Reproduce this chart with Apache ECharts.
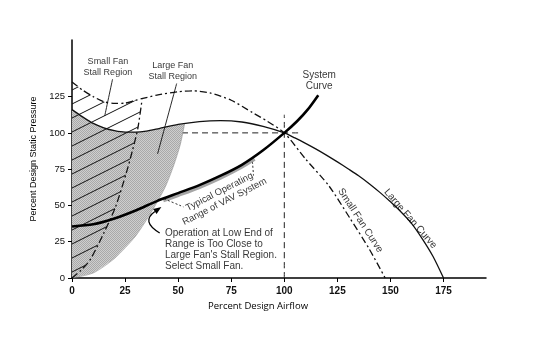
<!DOCTYPE html>
<html>
<head>
<meta charset="utf-8">
<script src="https://cdn.jsdelivr.net/npm/echarts@6/dist/echarts.min.js"></script>
<style>
  html, body { margin: 0; padding: 0; background: #fff; }
  #chart { width: 534px; height: 340px; }
</style>
</head>
<body>
<div id="chart"></div>
<script>
// Axis tick values
const xTicks = [0, 25, 50, 75, 100, 125, 150, 175];
const yTicks = [0, 25, 50, 75, 100, 125];

// Curves: [percent airflow, percent static pressure]
const systemCurve = [[0, 35.5], [10, 37], [20, 41], [30, 46.5], [40, 53], [50, 58.5], [60, 64], [70, 70.5],
  [80, 78], [90, 88], [100, 100], [106, 108], [111, 116], [116, 126]];
const operatingRange = [[43, 53.3], [50, 57], [60, 62.5], [70, 69], [80, 76.5], [86, 82]];
const largeFanCurve = [[0, 116], [5, 111], [10, 106.5], [15, 103.5], [20, 101.5], [25, 100.5], [30, 100.5],
  [35, 101.2], [41, 103], [50, 105.8], [60, 107.8], [70, 108.5], [80, 107.5], [90, 104.5], [100, 100],
  [105, 96.5], [110, 92.8], [115, 88.8], [120, 84.5], [125, 80], [130, 75.3], [135, 70.5], [140, 65],
  [145, 59], [150, 52.5], [155, 45.5], [160, 37.5], [165, 27], [170, 15], [175, 0]];
const smallFanCurve = [[0, 135], [5, 129.5], [10, 125], [15, 121.5], [20, 120.3], [25, 120.5], [30, 122.5],
  [40, 126], [50, 128.3], [57, 129], [65, 127.5], [75, 122.5], [85, 114], [92, 108], [100, 100],
  [110, 82], [121, 63.5], [131, 41], [140, 20], [147.5, 0]];
const smallFanStall = [[0, 0], [4, 5], [8.5, 12.5], [15, 31], [20.5, 49], [25.5, 72], [28.5, 88], [31, 103], [33, 123]];
const largeFanStall = [[0, 0], [10, 3.5], [20, 13.5], [30, 29], [38, 47], [44, 63], [48, 78], [51, 92], [53, 106]];

// Design point guide lines
const designHorizontal = [[0, 100], [108, 100]];
const designVertical = [[100, 0], [100, 112.5]];

// Range brackets and leader lines
const rangeBracketLow = [[43.5, 54.5], [52.5, 49]];
const rangeBracketHigh = [[85, 80], [85.5, 70.5]];
const smallStallLeader = [[19.1, 137], [15.4, 111.6]];
const largeStallLeader = [[49.3, 134], [40.3, 85.5]];

// Curved arrow: start, control, tip
const arrowPath = [[41.3, 31], [32.3, 38.8], [42.1, 49]];

// Annotation texts and anchor points
const noteTexts = [
  'Small Fan\nStall Region',
  'Large Fan\nStall Region',
  'System\nCurve',
  'Typical Operating\nRange of VAV System',
  'Operation at Low End of\nRange is Too Close to\nLarge Fan\'s Stall Region.\nSelect Small Fan.',
  'Small Fan Curve',
  'Large Fan Curve'
];
const noteAnchors = [[16.9, 145.4], [47.5, 142.7], [116.4, 135.8], [70.7, 56], [43.8, 34.6], [135.8, 39.6], [159.4, 40.8]];
const noteStyles = [
  { fontSize: 9 }, { fontSize: 9 }, { fontSize: 10 },
  { fontSize: 9.5, rotate: 27 },
  { fontSize: 10, align: 'left', verticalAlign: 'top', lineHeight: 11 },
  { fontSize: 10, rotate: -57 }, { fontSize: 10, rotate: -49 }
];

// Region outlines built from the curves
const largeStallRegion = [[0, 0]]
  .concat(largeFanCurve.filter(p => p[0] < 53))
  .concat(largeFanStall.slice().reverse());
const smallStallRegion = [[0, 0]]
  .concat(smallFanCurve.filter(p => p[0] < 33))
  .concat(smallFanStall.slice().reverse());

// Fill textures
function makeStipple() {
  const c = document.createElement('canvas');
  c.width = 2; c.height = 2;
  const g = c.getContext('2d');
  g.fillStyle = '#cecece'; g.fillRect(0, 0, 2, 2);
  g.fillStyle = '#a9a9a9'; g.fillRect(0, 0, 1, 1); g.fillRect(1, 1, 1, 1);
  return c;
}
function makeHatch() {
  const w = 28, h = 14;
  const c = document.createElement('canvas');
  c.width = w; c.height = h;
  const g = c.getContext('2d');
  g.strokeStyle = '#111';
  g.lineWidth = 1;
  for (let k = -1; k <= 1; k++) {
    g.beginPath();
    g.moveTo(-2, h + 1 + h * k);
    g.lineTo(w + 2, -1 + h * k);
    g.stroke();
  }
  return c;
}
const stipple = makeStipple();
const hatch = makeHatch();

const FONT = '"Liberation Sans", Arial, Helvetica, sans-serif';

function regionSeries(points, fill, z) {
  return {
    type: 'custom',
    coordinateSystem: 'cartesian2d',
    data: [[0, 0]],
    silent: true,
    z: z,
    renderItem: function (params, api) {
      return {
        type: 'polygon',
        shape: { points: points.map(p => api.coord(p)) },
        style: { fill: fill, stroke: null }
      };
    }
  };
}

function lineSeries(data, style, z) {
  return {
    type: 'line',
    data: data,
    smooth: 0.25,
    showSymbol: false,
    symbol: 'none',
    silent: true,
    z: z,
    lineStyle: style
  };
}

const chart = echarts.init(document.getElementById('chart'), null, { renderer: 'canvas' });

chart.setOption({
  animation: false,
  backgroundColor: '#fff',
  grid: { left: 72, right: 48, top: 40, bottom: 62 },
  xAxis: {
    type: 'value', min: 0, max: 195,
    name: 'Percent Design Airflow',
    nameLocation: 'middle', nameGap: 23,
    nameTextStyle: { fontFamily: '"Open Sans", sans-serif', fontSize: 9.5, color: '#000', padding: [0, 42, 0, 0] },
    axisLine: { onZero: false, lineStyle: { color: '#000', width: 1.5 } },
    axisTick: { show: true, customValues: xTicks, length: 4, lineStyle: { color: '#000', width: 1 } },
    axisLabel: { customValues: xTicks, margin: 8, fontFamily: FONT, fontSize: 10, fontWeight: 'bold', color: '#111' },
    splitLine: { show: false }
  },
  yAxis: {
    type: 'value', min: 0, max: 164,
    name: 'Percent Design Static Pressure',
    nameLocation: 'middle', nameGap: 25,
    nameTextStyle: { fontFamily: FONT, fontSize: 9, color: '#000' },
    axisLine: { onZero: false, lineStyle: { color: '#000', width: 1.5 } },
    axisTick: { show: true, customValues: yTicks, length: 4, lineStyle: { color: '#000', width: 1 } },
    axisLabel: { customValues: yTicks, margin: 7, fontFamily: FONT, fontSize: 9.5, color: '#111' },
    splitLine: { show: false }
  },
  series: [
    lineSeries(designHorizontal, { color: '#222', width: 1, type: [6, 4] }, 1),
    lineSeries(designVertical, { color: '#222', width: 1, type: [6, 4] }, 1),
    regionSeries(largeStallRegion, { image: stipple, repeat: 'repeat' }, 2),
    regionSeries(smallStallRegion, { image: hatch, repeat: 'repeat' }, 3),
    lineSeries(operatingRange, { color: '#a6a6a6', width: 3.5 }, 4),
    lineSeries(largeFanStall, { color: '#8a8a8a', width: 0.6 }, 4),
    lineSeries(smallFanStall, { color: '#111', width: 1.3, type: [7, 3, 2, 3] }, 5),
    lineSeries(smallFanCurve, { color: '#111', width: 1.3, type: [7, 3, 2, 3] }, 5),
    lineSeries(largeFanCurve, { color: '#111', width: 1.3 }, 5),
    lineSeries(systemCurve, { color: '#000', width: 2.6 }, 6),
    lineSeries(rangeBracketLow, { color: '#333', width: 1, type: [2, 2] }, 5),
    lineSeries(rangeBracketHigh, { color: '#333', width: 1, type: [2, 2] }, 5),
    lineSeries(smallStallLeader, { color: '#111', width: 0.9 }, 6),
    lineSeries(largeStallLeader, { color: '#111', width: 0.9 }, 6),
    {
      type: 'custom',
      coordinateSystem: 'cartesian2d',
      data: [[0, 0]],
      silent: true,
      z: 7,
      renderItem: function (params, api) {
        const s = api.coord(arrowPath[0]);
        const c = api.coord(arrowPath[1]);
        const t = api.coord(arrowPath[2]);
        const ang = Math.atan2(t[1] - c[1], t[0] - c[0]);
        const len = 8, half = 3;
        const bx = t[0] - len * Math.cos(ang), by = t[1] - len * Math.sin(ang);
        const nx = -Math.sin(ang) * half, ny = Math.cos(ang) * half;
        return {
          type: 'group',
          children: [
            {
              type: 'bezierCurve',
              shape: { x1: s[0], y1: s[1], x2: bx, y2: by, cpx1: c[0], cpy1: c[1] },
              style: { stroke: '#000', lineWidth: 1.3, fill: null }
            },
            {
              type: 'polygon',
              shape: { points: [t, [bx + nx, by + ny], [bx - nx, by - ny]] },
              style: { fill: '#000' }
            }
          ]
        };
      }
    },
    {
      type: 'scatter',
      symbolSize: 0,
      silent: true,
      z: 8,
      data: noteAnchors.map((p, i) => ({
        value: p,
        label: Object.assign({
          show: true,
          position: 'inside',
          formatter: noteTexts[i],
          fontFamily: FONT,
          color: '#000',
          align: 'center',
          verticalAlign: 'middle',
          lineHeight: 11
        }, noteStyles[i])
      }))
    }
  ]
});
</script>
</body>
</html>
